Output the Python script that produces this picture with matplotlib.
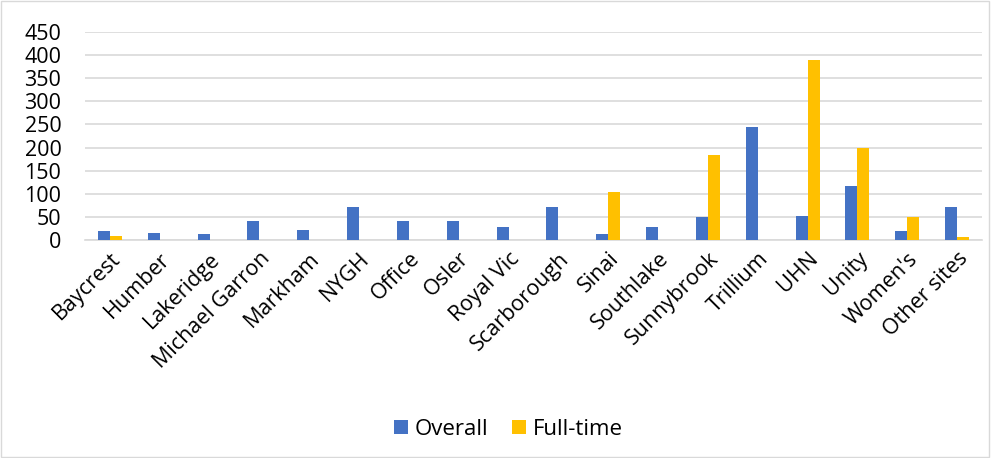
import numpy as np
import matplotlib
matplotlib.use("Agg")
import matplotlib.pyplot as plt

plt.rcParams["font.family"] = ["Open Sans", "DejaVu Sans"]

sites = ["Baycrest", "Humber", "Lakeridge", "Michael Garron", "Markham", "NYGH",
         "Office", "Osler", "Royal Vic", "Scarborough", "Sinai", "Southlake",
         "Sunnybrook", "Trillium", "UHN", "Unity", "Women's", "Other sites"]
overall = [20, 15, 13, 41, 22, 72, 41, 41, 29, 72, 13, 29, 50, 244, 53, 116, 19, 71]
full_time = [8, 0, 0, 0, 0, 0, 0, 0, 0, 0, 103, 0, 183, 0, 389, 199, 50, 6]

fig = plt.figure(figsize=(9.91, 4.58), dpi=100)
ax = fig.add_axes([85 / 991, 1 - 240 / 458, 897 / 991, 208 / 458])

x = np.arange(len(sites))
w = 0.24
ax.bar(x - w / 2, overall, w, color="#4472C4", label="Overall", zorder=3)
ax.bar(x + w / 2, full_time, w, color="#FFC000", label="Full-time", zorder=3)

ax.set_xlim(-0.5, len(sites) - 0.5)
ax.set_ylim(0, 450)
ax.set_yticks(range(0, 451, 50))
ax.yaxis.grid(True, color="#d9d9d9", linewidth=1.2, zorder=0)
for s in ["top", "right", "left"]:
    ax.spines[s].set_visible(False)
ax.spines["bottom"].set_color("#d9d9d9")
ax.spines["bottom"].set_linewidth(1.2)
ax.tick_params(length=0, labelsize=15.5, colors="#000000")
ax.tick_params(axis="y", pad=17)
ax.tick_params(axis="x", pad=6)
ax.set_xticks(x)
ax.set_xticklabels(sites, rotation=45, ha="right", rotation_mode="anchor")

fig.legend(loc="center", bbox_to_anchor=(0.513, 0.062), ncol=2, frameon=False,
           fontsize=16, handlelength=0.6, handleheight=0.6, columnspacing=1.1,
           handletextpad=0.3)

border = plt.Rectangle((0.001, 0.002), 0.997, 0.996, transform=fig.transFigure,
                       fill=False, edgecolor="#d9d9d9", linewidth=1)
fig.add_artist(border)

fig.savefig("out.png", dpi=100)
